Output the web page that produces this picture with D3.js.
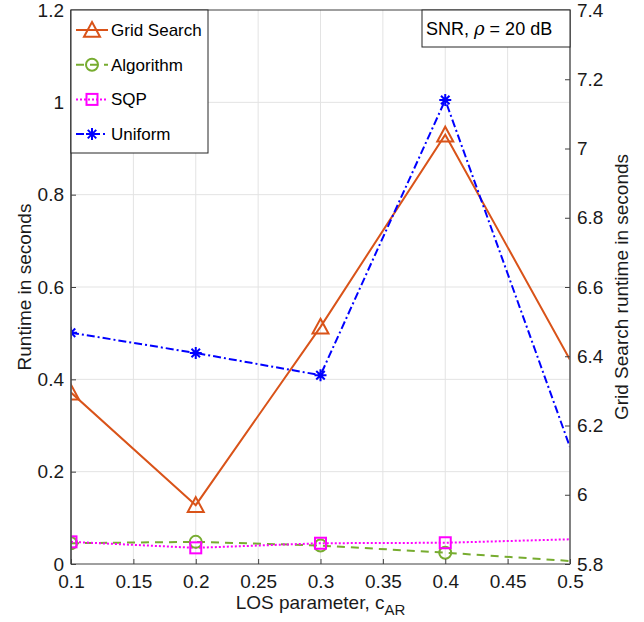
<!DOCTYPE html>
<html><head><meta charset="utf-8">
<script src="https://cdn.jsdelivr.net/npm/d3@7"></script>
<style>body{margin:0;background:#fff;} svg{display:block;font-family:"Liberation Sans",Arial,sans-serif;}</style>
</head><body>
<script>
const xValues = [0.1, 0.2, 0.3, 0.4, 0.5];
const gridSearch = [6.295, 5.97, 6.485, 7.04, 6.39];   // right axis
const algorithm = [0.045, 0.048, 0.040, 0.0245, 0.0065];
const sqp = [0.048, 0.035, 0.045, 0.046, 0.0535];
const uniform = [0.501, 0.457, 0.409, 1.005, 0.253];
const xTicks = [0.1, 0.15, 0.2, 0.25, 0.3, 0.35, 0.4, 0.45, 0.5];
const yLeftTicks = [0, 0.2, 0.4, 0.6, 0.8, 1, 1.2];
const yRightTicks = [5.8, 6, 6.2, 6.4, 6.6, 6.8, 7, 7.2, 7.4];
const markerCount = 4; // markers shown at first 4 x positions

const W = 644, H = 622;
const m = {left: 71, right: 74, top: 10, bottom: 58};
const svg = d3.select("body").append("svg").attr("width", W).attr("height", H);
const x = d3.scaleLinear().domain([0.1, 0.5]).range([m.left, W - m.right]);
const yL = d3.scaleLinear().domain([0, 1.2]).range([H - m.bottom, m.top]);
const yR = d3.scaleLinear().domain([5.8, 7.4]).range([H - m.bottom, m.top]);
const x0 = m.left, x1 = W - m.right, y0 = H - m.bottom, y1 = m.top;

// grid
const g = svg.append("g");
g.selectAll(".vg").data(xTicks.slice(1, -1)).enter().append("line")
  .attr("x1", d => x(d)).attr("x2", d => x(d)).attr("y1", y0).attr("y2", y1)
  .attr("stroke", "#e3e3e3").attr("stroke-width", 1);
g.selectAll(".hg").data(yLeftTicks.slice(1, -1)).enter().append("line")
  .attr("x1", x0).attr("x2", x1).attr("y1", d => yL(d)).attr("y2", d => yL(d))
  .attr("stroke", "#e3e3e3").attr("stroke-width", 1);

// clip
svg.append("clipPath").attr("id", "clip").append("rect")
  .attr("x", x0).attr("y", y1).attr("width", x1 - x0).attr("height", y0 - y1);
const plot = svg.append("g").attr("clip-path", "url(#clip)");

const series = [
  {name: "Grid Search", vals: gridSearch, y: yR, color: "#D95319", dash: null, marker: "tri"},
  {name: "Algorithm", vals: algorithm, y: yL, color: "#77AC30", dash: "8,6", marker: "circ"},
  {name: "SQP", vals: sqp, y: yL, color: "#FF00FF", dash: "2,2", marker: "sq"},
  {name: "Uniform", vals: uniform, y: yL, color: "#0000FF", dash: "8,3,2,3", marker: "star"}
];

function drawMarker(sel, type, cx, cy, color) {
  if (type === "tri") {
    const s = 8;
    sel.append("path").attr("d", `M${cx},${cy - s} L${cx + s},${cy + s * 0.85} L${cx - s},${cy + s * 0.85} Z`)
      .attr("fill", "none").attr("stroke", color).attr("stroke-width", 2);
  } else if (type === "circ") {
    sel.append("circle").attr("cx", cx).attr("cy", cy).attr("r", 6)
      .attr("fill", "none").attr("stroke", color).attr("stroke-width", 2);
  } else if (type === "sq") {
    sel.append("rect").attr("x", cx - 5.5).attr("y", cy - 5.5).attr("width", 11).attr("height", 11)
      .attr("fill", "none").attr("stroke", color).attr("stroke-width", 2);
  } else if (type === "star") {
    const r = 6;
    const p = [];
    for (let k = 0; k < 4; k++) {
      const a = k * Math.PI / 4;
      p.push(`M${cx - r * Math.cos(a)},${cy - r * Math.sin(a)} L${cx + r * Math.cos(a)},${cy + r * Math.sin(a)}`);
    }
    sel.append("path").attr("d", p.join(" ")).attr("stroke", color).attr("stroke-width", 2).attr("fill", "none");
  }
}

series.forEach(s => {
  const line = d3.line().x((d, i) => x(xValues[i])).y(d => s.y(d));
  plot.append("path").datum(s.vals).attr("d", line)
    .attr("fill", "none").attr("stroke", s.color).attr("stroke-width", 2)
    .attr("stroke-dasharray", s.dash);
});
series.forEach(s => {
  s.vals.slice(0, markerCount).forEach((v, i) => drawMarker(plot, s.marker, x(xValues[i]), s.y(v), s.color));
});

// axes
const axCol = "#404040";
svg.append("rect").attr("x", x0).attr("y", y1).attr("width", x1 - x0).attr("height", y0 - y1)
  .attr("fill", "none").attr("stroke", axCol).attr("stroke-width", 1);
svg.append("line").attr("x1", x0).attr("x2", x0).attr("y1", y0).attr("y2", y1).attr("stroke", "#555").attr("stroke-width", 1.5);
svg.append("line").attr("x1", x1).attr("x2", x1).attr("y1", y0).attr("y2", y1).attr("stroke", "#777").attr("stroke-width", 1.5);

const xAxis = d3.axisBottom(x).tickValues(xTicks).tickSizeInner(-5).tickSizeOuter(0).tickPadding(11).tickFormat(d => d3.format("")(d));
const gx = svg.append("g").attr("transform", `translate(0,${y0})`).call(xAxis);
const yAxisL = d3.axisLeft(yL).tickValues(yLeftTicks).tickSizeInner(-5).tickSizeOuter(0).tickPadding(7).tickFormat(d => d3.format("")(d));
const gyl = svg.append("g").attr("transform", `translate(${x0},0)`).call(yAxisL);
const yAxisR = d3.axisRight(yR).tickValues(yRightTicks).tickSizeInner(-5).tickSizeOuter(0).tickPadding(7).tickFormat(d => d3.format("")(d));
const gyr = svg.append("g").attr("transform", `translate(${x1},0)`).call(yAxisR);
[gx, gyl, gyr].forEach(ga => {
  ga.select(".domain").remove();
  ga.selectAll(".tick line").attr("stroke", axCol);
  ga.selectAll(".tick text").attr("fill", "#1a1a1a").style("font-size", "19px").style("font-family", "Liberation Sans, Arial, sans-serif");
});

// axis labels
svg.append("text").attr("x", (x0 + x1) / 2).attr("y", 609).attr("text-anchor", "middle")
  .style("font-size", "19px").attr("fill", "#1a1a1a")
  .html('LOS parameter, c<tspan dy="6" font-size="15">AR</tspan>');
svg.append("text").attr("transform", `translate(31,${(y0 + y1) / 2}) rotate(-90)`).attr("text-anchor", "middle")
  .style("font-size", "19px").attr("fill", "#1a1a1a").text("Runtime in seconds");
svg.append("text").attr("transform", `translate(628,${(y0 + y1) / 2}) rotate(-90)`).attr("text-anchor", "middle")
  .style("font-size", "19px").attr("fill", "#1a1a1a").text("Grid Search runtime in seconds");

// legend
const lg = svg.append("g");
lg.append("rect").attr("x", x0).attr("y", y1).attr("width", 137).attr("height", 143)
  .attr("fill", "#fff").attr("stroke", "#262626").attr("stroke-width", 1);
series.forEach((s, i) => {
  const ly = 30 + i * 34.7;
  lg.append("line").attr("x1", 76).attr("x2", 108).attr("y1", ly).attr("y2", ly)
    .attr("stroke", s.color).attr("stroke-width", 2).attr("stroke-dasharray", s.dash);
  drawMarker(lg, s.marker, 92, ly, s.color);
  lg.append("text").attr("x", 111).attr("y", ly + 6).style("font-size", "17px").attr("fill", "#000").text(s.name);
});

// annotation
const ab = svg.append("g");
ab.append("rect").attr("x", 422).attr("y", y1).attr("width", x1 - 422).attr("height", 37)
  .attr("fill", "#fff").attr("stroke", "#262626").attr("stroke-width", 1);
ab.append("text").attr("x", 426).attr("y", 35).style("font-size", "18px").attr("fill", "#000")
  .html('SNR, <tspan font-style="italic" font-family="DejaVu Serif, serif">ρ</tspan> = 20 dB');
</script>
</body></html>
